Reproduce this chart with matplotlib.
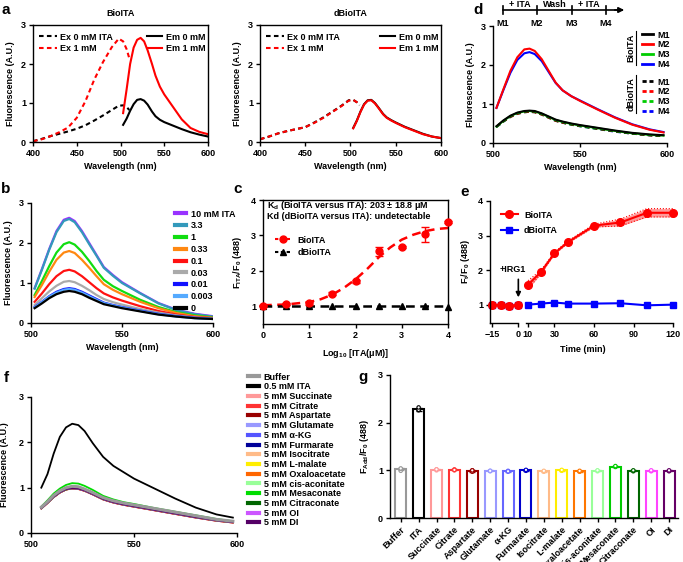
import matplotlib
matplotlib.use("Agg")
from matplotlib import pyplot as plt
from matplotlib.lines import Line2D

FS = 6.5
plt.rcParams['font.family'] = ['Liberation Sans', 'DejaVu Sans']
plt.rcParams['font.weight'] = 'bold'
plt.rcParams['font.size'] = FS
plt.rcParams['axes.labelweight'] = 'bold'
plt.rcParams['mathtext.fontset'] = 'custom'
plt.rcParams['mathtext.rm'] = 'Liberation Sans:bold'
plt.rcParams['mathtext.it'] = 'Liberation Sans:bold'
plt.rcParams['mathtext.bf'] = 'Liberation Sans:bold'
plt.rcParams['mathtext.default'] = 'bf'
plt.rcParams['axes.linewidth'] = 1.0

W, H = 683, 562

# ---- panel a: excitation / emission spectra
ex_wl = [400, 410, 420, 430, 440, 450, 460, 470, 480, 490, 498, 503, 507, 510]
ex0_bio = [0.02, 0.08, 0.15, 0.21, 0.27, 0.34, 0.43, 0.55, 0.68, 0.82, 0.93, 0.94, 0.9, 0.82]
ex1_bio = [0.02, 0.07, 0.15, 0.25, 0.37, 0.62, 1.05, 1.6, 2.05, 2.43, 2.65, 2.58, 2.38, 2.15]
ex0_dbio = [0.07, 0.14, 0.22, 0.28, 0.33, 0.38, 0.5, 0.63, 0.78, 0.93, 1.07, 1.08, 1.02, 0.94]
ex1_dbio = [0.07, 0.14, 0.22, 0.28, 0.33, 0.38, 0.49, 0.62, 0.77, 0.92, 1.06, 1.08, 1.02, 0.95]
em_wl = [503, 507, 511, 515, 519, 523, 527, 531, 536, 540, 545, 550, 560, 570, 580, 590, 600]
em0_bio = [0.44, 0.6, 0.8, 0.97, 1.08, 1.1, 1.06, 0.96, 0.78, 0.66, 0.57, 0.51, 0.42, 0.33, 0.25, 0.19, 0.14]
em1_bio = [0.74, 1.35, 2.0, 2.42, 2.62, 2.67, 2.58, 2.35, 2.0, 1.7, 1.42, 1.22, 0.9, 0.58, 0.36, 0.26, 0.2]
em0_dbio = [0.36, 0.55, 0.78, 0.97, 1.07, 1.08, 1.0, 0.88, 0.72, 0.63, 0.56, 0.5, 0.39, 0.3, 0.21, 0.14, 0.1]
em1_dbio = [0.35, 0.54, 0.77, 0.96, 1.06, 1.07, 0.99, 0.87, 0.71, 0.62, 0.55, 0.49, 0.38, 0.29, 0.2, 0.14, 0.1]

# ---- panel b: titration spectra
wl_b = [502, 506, 510, 514, 518, 521, 524, 528, 532, 536, 540, 545, 550, 560, 570, 580, 590, 600]
b_labels = ['10 mM ITA', '3.3', '1', '0.33', '0.1', '0.03', '0.01', '0.003', '0']
b_colors = ['#9933ff', '#3399bb', '#11dd11', '#ff8811', '#ff1111', '#aaaaaa', '#1111ff', '#55aaff', '#000000']
b_10 = [0.87, 1.35, 1.85, 2.3, 2.58, 2.63, 2.55, 2.3, 2.0, 1.7, 1.4, 1.2, 1.02, 0.75, 0.5, 0.33, 0.23, 0.17]
b_3_3 = [0.86, 1.33, 1.83, 2.27, 2.55, 2.6, 2.52, 2.27, 1.97, 1.68, 1.38, 1.18, 1.0, 0.74, 0.49, 0.32, 0.22, 0.16]
b_1 = [0.7, 1.05, 1.42, 1.76, 1.97, 2.02, 1.96, 1.78, 1.55, 1.3, 1.08, 0.92, 0.8, 0.58, 0.4, 0.27, 0.19, 0.14]
b_0_33 = [0.65, 0.95, 1.28, 1.58, 1.76, 1.8, 1.75, 1.58, 1.38, 1.17, 0.97, 0.83, 0.72, 0.53, 0.37, 0.25, 0.17, 0.13]
b_0_1 = [0.53, 0.74, 0.97, 1.17, 1.3, 1.33, 1.29, 1.17, 1.02, 0.87, 0.74, 0.64, 0.56, 0.42, 0.3, 0.21, 0.15, 0.12]
b_0_03 = [0.45, 0.62, 0.79, 0.93, 1.03, 1.05, 1.02, 0.93, 0.82, 0.7, 0.6, 0.52, 0.46, 0.35, 0.26, 0.19, 0.14, 0.11]
b_0_01 = [0.4, 0.53, 0.67, 0.78, 0.85, 0.87, 0.85, 0.78, 0.69, 0.6, 0.51, 0.45, 0.4, 0.31, 0.23, 0.17, 0.13, 0.1]
b_0_003 = [0.39, 0.52, 0.66, 0.76, 0.83, 0.85, 0.83, 0.76, 0.67, 0.58, 0.5, 0.44, 0.39, 0.3, 0.22, 0.16, 0.12, 0.1]
b_0 = [0.37, 0.49, 0.62, 0.72, 0.78, 0.8, 0.78, 0.72, 0.63, 0.55, 0.47, 0.42, 0.37, 0.29, 0.21, 0.16, 0.12, 0.1]

# ---- panel c: dose response
c_x = [0, 0.5, 1, 1.5, 2, 2.5, 3, 3.5, 4]
c_bio = [1.02, 1.07, 1.08, 1.36, 1.7, 2.55, 2.67, 3.03, 3.38]
c_bio_err = [0.02, 0.02, 0.03, 0.03, 0.04, 0.13, 0.03, 0.22, 0.03]
c_dbio = [1.0, 1.01, 1.0, 1.0, 1.0, 1.0, 1.0, 1.0, 0.99]
c_fit_x = [0, 0.5, 1.0, 1.25, 1.5, 1.75, 2.0, 2.25, 2.5, 2.75, 3.0, 3.25, 3.5, 3.75, 4.0]
c_fit_bio = [1.03, 1.05, 1.12, 1.2, 1.33, 1.52, 1.76, 2.05, 2.38, 2.66, 2.88, 3.02, 3.12, 3.18, 3.21]
c_fit_dbio = [1.0, 1.0, 1.0, 1.0, 1.0, 1.0, 1.0, 1.0, 1.0, 1.0, 1.0, 1.0, 1.0, 1.0, 1.0]

# ---- panel d: reversibility
wl_d = [502, 506, 510, 514, 518, 521, 524, 528, 532, 536, 540, 545, 550, 560, 570, 580, 590, 598]
d_colors = ['#000000', '#ff0000', '#00cc00', '#0000ff']
d_bio_m1 = [0.43, 0.58, 0.7, 0.78, 0.82, 0.83, 0.82, 0.76, 0.68, 0.6, 0.55, 0.5, 0.46, 0.39, 0.32, 0.26, 0.22, 0.2]
d_bio_m2 = [0.9, 1.38, 1.85, 2.2, 2.4, 2.42, 2.36, 2.15, 1.85, 1.55, 1.35, 1.2, 1.08, 0.86, 0.65, 0.47, 0.34, 0.27]
d_bio_m3 = [0.42, 0.57, 0.69, 0.77, 0.81, 0.82, 0.81, 0.75, 0.67, 0.59, 0.54, 0.49, 0.45, 0.38, 0.31, 0.25, 0.21, 0.19]
d_bio_m4 = [0.9, 1.36, 1.8, 2.13, 2.3, 2.33, 2.28, 2.1, 1.82, 1.54, 1.35, 1.2, 1.09, 0.87, 0.66, 0.48, 0.35, 0.28]
d_dbio_m1 = [0.42, 0.56, 0.68, 0.76, 0.8, 0.81, 0.8, 0.74, 0.66, 0.58, 0.53, 0.48, 0.44, 0.37, 0.3, 0.24, 0.2, 0.18]
d_dbio_m2 = [0.42, 0.56, 0.67, 0.75, 0.79, 0.8, 0.79, 0.73, 0.65, 0.57, 0.52, 0.48, 0.44, 0.37, 0.3, 0.24, 0.2, 0.18]
d_dbio_m3 = [0.41, 0.55, 0.67, 0.75, 0.79, 0.8, 0.79, 0.73, 0.65, 0.57, 0.52, 0.47, 0.43, 0.36, 0.3, 0.24, 0.2, 0.18]
d_dbio_m4 = [0.41, 0.55, 0.67, 0.75, 0.79, 0.8, 0.79, 0.73, 0.65, 0.57, 0.52, 0.47, 0.43, 0.36, 0.29, 0.24, 0.2, 0.18]

# ---- panel e: time course
e_t_pre = [-15, -10, -5, 0]
e_t_post = [10, 20, 30, 40, 60, 80, 100, 120]
e_bio_pre = [1.0, 1.0, 0.98, 1.0]
e_dbio_pre = [0.99, 1.0, 0.97, 0.99]
e_bio_post = [1.58, 1.96, 2.49, 2.81, 3.29, 3.38, 3.66, 3.66]
e_bio_err = [0.12, 0.05, 0.03, 0.03, 0.04, 0.1, 0.12, 0.12]
e_dbio_post = [1.01, 1.04, 1.07, 1.04, 1.04, 1.05, 0.99, 1.01]

# ---- panel f: selectivity spectra
wl_f = [505, 508, 511, 514, 517, 520, 523, 526, 530, 535, 540, 545, 550, 560, 570, 580, 590, 598]
f_names = ['Buffer', '0.5 mM ITA', '5 mM Succinate', '5 mM Citrate', '5 mM Aspartate',
           '5 mM Glutamate', '5 mM \u03b1-KG', '5 mM Furmarate', '5 mM Isocitrate',
           '5 mM L-malate', '5 mM Oxaloacetate', '5 mM cis-aconitate', '5 mM Mesaconate',
           '5 mM Citraconate', '5 mM OI', '5 mM DI']
f_colors = ['#999999', '#000000', '#ff9999', '#ff3333', '#990000', '#9999ff', '#5555ff',
            '#000099', '#ffbb88', '#ffee00', '#ff6600', '#99ff99', '#00dd00', '#006600',
            '#cc55ff', '#550066']
f_buffer = [0.57, 0.69, 0.83, 0.93, 1.0, 1.03, 1.02, 0.97, 0.89, 0.78, 0.71, 0.66, 0.62, 0.54, 0.46, 0.38, 0.3, 0.26]
f_ita = [1.0, 1.3, 1.75, 2.12, 2.33, 2.41, 2.38, 2.25, 1.98, 1.68, 1.48, 1.34, 1.2, 0.98, 0.76, 0.56, 0.41, 0.34]
f_succinate = [0.55, 0.67, 0.8, 0.9, 0.97, 1.0, 0.99, 0.95, 0.87, 0.76, 0.69, 0.64, 0.6, 0.52, 0.44, 0.36, 0.29, 0.25]
f_citrate = [0.54, 0.66, 0.79, 0.89, 0.96, 0.98, 0.97, 0.93, 0.85, 0.74, 0.67, 0.62, 0.58, 0.5, 0.42, 0.34, 0.27, 0.23]
f_aspartate = [0.54, 0.66, 0.79, 0.89, 0.96, 0.98, 0.97, 0.93, 0.85, 0.74, 0.67, 0.62, 0.58, 0.5, 0.42, 0.34, 0.27, 0.23]
f_glutamate = [0.55, 0.67, 0.8, 0.9, 0.97, 0.99, 0.98, 0.94, 0.86, 0.75, 0.68, 0.63, 0.59, 0.51, 0.43, 0.35, 0.28, 0.24]
f_akg = [0.55, 0.67, 0.8, 0.9, 0.96, 0.99, 0.98, 0.94, 0.86, 0.75, 0.68, 0.63, 0.59, 0.51, 0.43, 0.35, 0.28, 0.24]
f_furmarate = [0.55, 0.67, 0.8, 0.9, 0.97, 1.0, 0.99, 0.94, 0.86, 0.75, 0.68, 0.63, 0.59, 0.51, 0.43, 0.35, 0.28, 0.24]
f_isocitrate = [0.55, 0.67, 0.8, 0.9, 0.96, 0.99, 0.98, 0.94, 0.86, 0.75, 0.68, 0.63, 0.59, 0.51, 0.43, 0.35, 0.28, 0.24]
f_lmalate = [0.55, 0.67, 0.8, 0.9, 0.97, 1.0, 0.99, 0.94, 0.86, 0.75, 0.68, 0.63, 0.59, 0.51, 0.43, 0.35, 0.28, 0.24]
f_oxaloacetate = [0.55, 0.67, 0.8, 0.9, 0.96, 0.99, 0.98, 0.94, 0.86, 0.75, 0.68, 0.63, 0.59, 0.51, 0.43, 0.35, 0.28, 0.24]
f_cisaconitate = [0.55, 0.67, 0.8, 0.9, 0.97, 0.99, 0.98, 0.94, 0.86, 0.75, 0.68, 0.63, 0.59, 0.51, 0.43, 0.35, 0.28, 0.24]
f_mesaconate = [0.58, 0.72, 0.87, 0.98, 1.06, 1.1, 1.09, 1.04, 0.95, 0.82, 0.74, 0.68, 0.64, 0.55, 0.47, 0.39, 0.31, 0.26]
f_citraconate = [0.55, 0.67, 0.8, 0.9, 0.96, 0.99, 0.98, 0.94, 0.86, 0.75, 0.68, 0.63, 0.59, 0.51, 0.43, 0.35, 0.28, 0.24]
f_oi = [0.55, 0.67, 0.8, 0.9, 0.97, 0.99, 0.98, 0.94, 0.86, 0.75, 0.68, 0.63, 0.59, 0.51, 0.43, 0.35, 0.28, 0.24]
f_di = [0.55, 0.67, 0.8, 0.9, 0.97, 0.99, 0.98, 0.94, 0.86, 0.75, 0.68, 0.63, 0.59, 0.51, 0.43, 0.35, 0.28, 0.24]

# ---- panel g: selectivity bars
g_names = ['Buffer', 'ITA', 'Succinate', 'Citrate', 'Aspartate', 'Glutamate', '\u03b1-KG',
           'Furmarate', 'Isocitrate', 'L-malate', 'Oxaloacetate', 'cis-aconitate',
           'Mesaconate', 'Citraconate', 'OI', 'DI']
g_colors = ['#999999', '#000000', '#ff9999', '#ff3333', '#990000', '#9999ff', '#6666ff',
            '#0000cc', '#ffbb88', '#ffee00', '#ff7700', '#99ff99', '#00cc00', '#006600',
            '#ff44ff', '#660066']
g_means = [1.02, 2.28, 1.01, 1.01, 0.99, 0.99, 0.98, 1.0, 0.98, 1.0, 0.98, 0.99, 1.08, 0.99, 0.99, 0.99]
g_err = [0.02, 0.03, 0.01, 0.01, 0.02, 0.01, 0.01, 0.01, 0.01, 0.01, 0.01, 0.01, 0.01, 0.01, 0.01, 0.01]
g_rep1 = [0.99, 2.26, 1.0, 1.0, 0.97, 0.98, 0.97, 0.99, 0.97, 0.99, 0.97, 0.98, 1.07, 0.98, 0.98, 0.98]
g_rep2 = [1.03, 2.27, 1.02, 1.02, 1.0, 0.99, 0.99, 1.0, 0.98, 1.0, 0.98, 0.99, 1.08, 0.99, 0.99, 0.99]
g_rep3 = [1.04, 2.32, 1.02, 1.01, 1.0, 0.99, 0.98, 1.01, 0.99, 1.01, 0.99, 1.0, 1.09, 1.0, 1.0, 1.0]


def px_axes(fig, l, t, r, b):
    return fig.add_axes([l / W, 1 - b / H, (r - l) / W, (b - t) / H])


def ftext(fig, x, y, s, **kw):
    return fig.text(x / W, 1 - y / H, s, **kw)


def fpt(x, y):
    return (x / W, 1 - y / H)


def style(ax, box=False):
    ax.spines['top'].set_visible(box)
    ax.spines['right'].set_visible(box)
    ax.tick_params(direction='out', length=3, width=1, labelsize=FS, pad=2)


def panel_a(fig):
    dash = (2.2, 1.6)
    for (l, r), title, e0, e1, m0, m1 in [((33, 208), 'BioITA', ex0_bio, ex1_bio, em0_bio, em1_bio),
                                          ((260, 441), 'dBioITA', ex0_dbio, ex1_dbio, em0_dbio, em1_dbio)]:
        ax = px_axes(fig, l, 25, r, 142)
        h1, = ax.plot(ex_wl, e0, color='k', lw=1.5, ls='--', dashes=dash)
        h2, = ax.plot(ex_wl, e1, color='r', lw=1.5, ls='--', dashes=dash)
        h3, = ax.plot(em_wl, m0, color='k', lw=1.5)
        h4, = ax.plot(em_wl, m1, color='r', lw=1.5)
        ax.set_xlim(400, 600)
        ax.set_ylim(0, 3)
        ax.set_xticks([400, 450, 500, 550, 600])
        ax.set_yticks([0, 1, 2, 3])
        style(ax, box=True)
        ax.set_xlabel('Wavelength (nm)', fontsize=FS, labelpad=3)
        ax.set_ylabel('Fluorescence (A.U.)', fontsize=FS, labelpad=4)
        leg1 = ax.legend([h1, h2], ['Ex 0 mM ITA', 'Ex 1 mM'], loc='upper left',
                         frameon=False, fontsize=FS, handlelength=2.0, handletextpad=0.4,
                         labelspacing=0.3, borderaxespad=0,
                         bbox_to_anchor=fpt(l + 2, 29), bbox_transform=fig.transFigure)
        ax.add_artist(leg1)
        ax.legend([h3, h4], ['Em 0 mM', 'Em 1 mM'], loc='upper right',
                  frameon=False, fontsize=FS, handlelength=1.7, handletextpad=0.4,
                  labelspacing=0.3, borderaxespad=0,
                  bbox_to_anchor=fpt(r + 1, 29), bbox_transform=fig.transFigure)
        ftext(fig, (l + r) / 2, 14, title, ha='center', va='center', fontsize=FS)
    ftext(fig, 6, 10, 'a', fontsize=11, ha='center', va='center')


def panel_b(fig):
    ax = px_axes(fig, 31, 203, 213, 323)
    series = [b_10, b_3_3, b_1, b_0_33, b_0_1, b_0_03, b_0_01, b_0_003, b_0]
    for ys, c, lab in zip(series, b_colors, b_labels):
        ax.plot(wl_b, ys, color=c, lw=1.6, label=lab)
    ax.set_xlim(500, 600)
    ax.set_ylim(0, 3)
    ax.set_xticks([500, 550, 600])
    ax.set_yticks([0, 1, 2, 3])
    style(ax)
    ax.set_xlabel('Wavelength (nm)', fontsize=FS, labelpad=3)
    ax.set_ylabel('Fluorescence (A.U.)', fontsize=FS, labelpad=4)
    leg = ax.legend(loc='upper left', bbox_to_anchor=fpt(171, 206), bbox_transform=fig.transFigure,
                    frameon=False, fontsize=FS, handlelength=1.3, handletextpad=0.5,
                    labelspacing=0.31, borderaxespad=0)
    for ln in leg.get_lines():
        ln.set_linewidth(3)
    ftext(fig, 6, 189, 'b', fontsize=11, ha='center', va='center')


def panel_c(fig):
    ax = px_axes(fig, 263, 200, 448, 324)
    ax.plot(c_fit_x, c_fit_bio, color='r', lw=1.8, ls='--', dashes=(3.5, 2.2))
    ax.plot(c_fit_x, c_fit_dbio, color='k', lw=1.8, ls='--', dashes=(3.5, 2.2))
    ax.errorbar(c_x, c_bio, yerr=c_bio_err, fmt='o', color='r', ms=5, capsize=3,
                elinewidth=1, capthick=1, clip_on=False, zorder=3)
    ax.plot(c_x, c_dbio, '^', color='k', ms=4, clip_on=False, zorder=3)
    ax.set_xlim(0, 4)
    ax.set_ylim(0.5, 4)
    ax.set_xticks([0, 1, 2, 3, 4])
    ax.set_yticks([1, 2, 3, 4])
    style(ax, box=True)
    ax.set_xlabel('Log$_{10}$ [ITA(\u03bcM)]', fontsize=FS, labelpad=5)
    ax.set_ylabel('F$_{ITA}$/F$_0$ (488)', fontsize=FS, labelpad=5)
    hb = Line2D([], [], color='r', ls='--', marker='o', ms=5, lw=1.5, dashes=(1.6, 1.2))
    hd = Line2D([], [], color='k', ls='--', marker='^', ms=4, lw=1.5, dashes=(1.6, 1.2))
    ax.legend([hb, hd], ['BioITA', 'dBioITA'], loc='upper left',
              bbox_to_anchor=fpt(271, 232), bbox_transform=fig.transFigure,
              frameon=False, fontsize=FS, handlelength=1.8, handletextpad=0.7,
              labelspacing=0.4, borderaxespad=0)
    ftext(fig, 267, 206, 'K$_d$ (BioITA versus ITA): 203 \u00b1 18.8 \u03bcM', fontsize=FS, va='center')
    ftext(fig, 267, 216.5, 'Kd (dBioITA versus ITA): undetectable', fontsize=FS, va='center')
    ftext(fig, 238, 189, 'c', fontsize=11, ha='center', va='center')


def panel_d(fig):
    ax = px_axes(fig, 493, 26, 667, 143)
    dsh = (2.2, 1.6)
    for ys, c in zip([d_dbio_m4, d_dbio_m3, d_dbio_m2, d_dbio_m1], d_colors[::-1]):
        ax.plot(wl_d, ys, color=c, lw=1.5, ls='--', dashes=dsh)
    ax.plot(wl_d, d_bio_m3, color=d_colors[2], lw=1.5)
    ax.plot(wl_d, d_bio_m1, color=d_colors[0], lw=1.5)
    ax.plot(wl_d, d_bio_m4, color=d_colors[3], lw=1.5)
    ax.plot(wl_d, d_bio_m2, color=d_colors[1], lw=1.5)
    ax.set_xlim(500, 600)
    ax.set_ylim(0, 3)
    ax.set_xticks([500, 550, 600])
    ax.set_yticks([0, 1, 2, 3])
    style(ax)
    ax.set_xlabel('Wavelength (nm)', fontsize=FS, labelpad=3)
    ax.set_ylabel('Fluorescence (A.U.)', fontsize=FS, labelpad=4)
    labs = ['M1', 'M2', 'M3', 'M4']
    hs = [Line2D([], [], color=c, lw=2) for c in d_colors]
    hd = [Line2D([], [], color=c, lw=2, ls='--', dashes=(1.5, 1)) for c in d_colors]
    leg1 = ax.legend(hs, labs, loc='upper left', bbox_to_anchor=fpt(638, 27),
                     bbox_transform=fig.transFigure, frameon=False, fontsize=FS,
                     handlelength=1.3, handletextpad=0.4, labelspacing=0.08, borderaxespad=0)
    ax.add_artist(leg1)
    ax.legend(hd, labs, loc='upper left', bbox_to_anchor=fpt(638, 74),
              bbox_transform=fig.transFigure, frameon=False, fontsize=FS,
              handlelength=1.3, handletextpad=0.4, labelspacing=0.08, borderaxespad=0)
    ftext(fig, 631, 48, 'BioITA', rotation=90, ha='center', va='center', fontsize=FS)
    ftext(fig, 631, 94, 'dBioITA', rotation=90, ha='center', va='center', fontsize=FS)
    fig.add_artist(Line2D([636 / W, 636 / W], [1 - 31 / H, 1 - 65 / H], color='k', lw=0.8))
    fig.add_artist(Line2D([636 / W, 636 / W], [1 - 75 / H, 1 - 113 / H], color='k', lw=0.8))
    # timeline of the treatment
    fig.add_artist(Line2D([503 / W, 622 / W], [1 - 10 / H, 1 - 10 / H], color='k', lw=1.2))
    ax.annotate('', xy=fpt(627, 10), xytext=fpt(612, 10),
                xycoords='figure fraction', textcoords='figure fraction',
                arrowprops=dict(arrowstyle='-|>', color='k', lw=1.2, mutation_scale=8))
    for x, m in zip([503, 537, 572, 606], labs):
        fig.add_artist(Line2D([x / W, x / W], [1 - 6 / H, 1 - 14 / H], color='k', lw=1.2))
        ftext(fig, x, 23, m, ha='center', va='center', fontsize=FS)
    for x, s in zip([520, 554.5, 589], ['+ ITA', 'Wash', '+ ITA']):
        ftext(fig, x, 4.5, s, ha='center', va='center', fontsize=FS)
    ftext(fig, 478, 10, 'd', fontsize=11, ha='center', va='center')


def panel_e(fig):
    axl = px_axes(fig, 490, 201, 521, 323)
    axr = px_axes(fig, 524, 201, 676, 323)
    axr.patch.set_visible(False)
    axl.set_xlim(-16, 1.5)
    axr.set_xlim(7, 122)
    for ax in (axl, axr):
        ax.set_ylim(0.48, 4)
        style(ax)
    axr.spines['left'].set_visible(False)
    axr.tick_params(axis='y', left=False, labelleft=False)
    axl.spines['bottom'].set_bounds(-16, 0)
    axr.spines['bottom'].set_bounds(8.5, 120)
    axl.set_xticks([-15, 0])
    axr.set_xticks([10, 30, 60, 90, 120])
    axl.set_yticks([1, 2, 3, 4])
    axl.plot(e_t_pre, e_dbio_pre, color='b', marker='s', ms=5, lw=1.5, clip_on=False)
    axl.plot(e_t_pre, e_bio_pre, color='r', marker='o', ms=5.5, lw=1.5, clip_on=False)
    lo = [m - e for m, e in zip(e_bio_post, e_bio_err)]
    hi = [m + e for m, e in zip(e_bio_post, e_bio_err)]
    axr.fill_between(e_t_post, lo, hi, color='r', alpha=0.4, lw=0)
    axr.plot(e_t_post, lo, color='r', lw=0.8, ls=':')
    axr.plot(e_t_post, hi, color='r', lw=0.8, ls=':')
    hd, = axr.plot(e_t_post, e_dbio_post, color='b', marker='s', ms=5, lw=1.5, clip_on=False)
    hb, = axr.plot(e_t_post, e_bio_post, color='r', marker='o', ms=5.5, lw=1.5, clip_on=False)
    axr.legend([hb, hd], ['BioITA', 'dBioITA'], loc='upper left',
               bbox_to_anchor=fpt(497, 207), bbox_transform=fig.transFigure,
               frameon=False, fontsize=FS, handlelength=1.9, handletextpad=0.7,
               labelspacing=0.75, borderaxespad=0)
    axl.annotate('', xy=(0, 1.14), xytext=(0, 1.82),
                 arrowprops=dict(arrowstyle='-|>', color='k', lw=1.2, mutation_scale=7),
                 annotation_clip=False)
    ftext(fig, 513, 270, '+IRG1', ha='center', va='center', fontsize=FS)
    axl.set_ylabel('F$_t$/F$_0$ (488)', fontsize=FS, labelpad=4)
    ftext(fig, 583, 350, 'Time (min)', ha='center', va='center', fontsize=FS)
    ftext(fig, 465, 192, 'e', fontsize=11, ha='center', va='center')


def panel_f(fig):
    ax = px_axes(fig, 31, 397, 237, 533)
    series = [f_buffer, f_ita, f_succinate, f_citrate, f_aspartate, f_glutamate, f_akg,
              f_furmarate, f_isocitrate, f_lmalate, f_oxaloacetate, f_cisaconitate,
              f_mesaconate, f_citraconate, f_oi, f_di]
    hs = []
    for ys, c in zip(series, f_colors):
        h, = ax.plot(wl_f, ys, color=c, lw=1.3)
        hs.append(h)
    hs[0].set_linewidth(2.2)
    hs[0].set_zorder(3)
    ax.set_xlim(500, 600)
    ax.set_ylim(0, 3)
    ax.set_xticks([500, 550, 600])
    ax.set_yticks([0, 1, 2, 3])
    style(ax)
    ax.set_ylabel('Fluorescence (A.U.)', fontsize=FS, labelpad=7)
    leg = ax.legend(hs, f_names, loc='upper left', bbox_to_anchor=fpt(244, 369),
                    bbox_transform=fig.transFigure, frameon=False, fontsize=FS,
                    handlelength=1.3, handletextpad=0.5, labelspacing=0.08, borderaxespad=0)
    for ln in leg.get_lines():
        ln.set_linewidth(3)
    ftext(fig, 6, 378, 'f', fontsize=11, ha='center', va='center')


def panel_g(fig):
    ax = px_axes(fig, 390, 375, 678, 518)
    xs = list(range(len(g_names)))
    ax.bar(xs, g_means, width=0.62, color='white', edgecolor=g_colors, linewidth=1.5, zorder=2)
    for x, m, e, c in zip(xs, g_means, g_err, g_colors):
        ax.errorbar([x], [m], yerr=[e], fmt='none', ecolor=c, elinewidth=1,
                    capsize=2.5, capthick=1, zorder=3)
    for reps in (g_rep1, g_rep2, g_rep3):
        ax.scatter(xs, reps, s=6, facecolor='white', edgecolor=g_colors, linewidth=0.8, zorder=4)
    ax.set_xlim(-0.6, 15.5)
    ax.set_ylim(0, 3)
    ax.set_yticks([0, 1, 2, 3])
    ax.set_xticks(xs)
    ax.set_xticklabels(g_names, rotation=45, ha='right', rotation_mode='anchor', fontsize=FS)
    style(ax)
    ax.set_ylabel('F$_{Add}$/F$_0$ (488)', fontsize=FS, labelpad=5)
    ftext(fig, 363, 377, 'g', fontsize=11, ha='center', va='center')


def main():
    fig = plt.figure(figsize=(W / 100, H / 100), dpi=100)
    panel_a(fig)
    panel_b(fig)
    panel_c(fig)
    panel_d(fig)
    panel_e(fig)
    panel_f(fig)
    panel_g(fig)
    fig.savefig('out.png', dpi=100)


if __name__ == "__main__":
    main()
